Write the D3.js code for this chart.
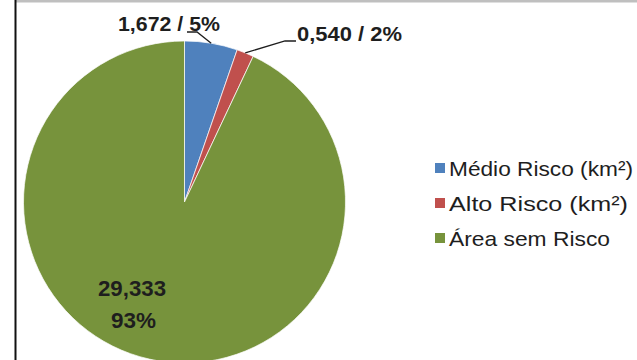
<!DOCTYPE html>
<html>
<head>
<meta charset="utf-8">
<script src="https://cdn.jsdelivr.net/npm/d3@7"></script>
<style>
  html, body { margin: 0; padding: 0; background: #fff; }
  svg { display: block; }
  text { font-family: "Liberation Sans", Arial, sans-serif; fill: #1e1e1e; }
</style>
</head>
<body>
<svg id="chart" width="637" height="360"></svg>
<script>
const categories = ["Médio Risco (km²)", "Alto Risco (km²)", "Área sem Risco"];
const values = [1.672, 0.540, 29.333];
const valueLabels = ["1,672", "0,540", "29,333"];
const percentLabels = ["5%", "2%", "93%"];
const colors = ["#4F81BD", "#C0504D", "#77933C"];

const svg = d3.select("#chart");
const W = 637, H = 360;

// frame: left dark rule and top grey band
svg.append("rect").attr("x", 0).attr("y", 0).attr("width", W).attr("height", H).attr("fill", "#fff");
svg.append("rect").attr("x", 15).attr("y", 0).attr("width", W - 15).attr("height", 2.5).attr("fill", "#bfbfbf");
svg.append("line").attr("x1", 15.5).attr("x2", 15.5).attr("y1", 0).attr("y2", H)
  .attr("stroke", "#111").attr("stroke-width", 2);

const cx = 184.5, cy = 202, r = 161;
const pie = d3.pie().sort(null).value(d => d)(values);
const arc = d3.arc().innerRadius(0).outerRadius(r);

const g = svg.append("g").attr("transform", `translate(${cx},${cy})`);
g.selectAll("path").data(pie).join("path")
  .attr("d", arc)
  .attr("fill", (d, i) => colors[i])
  .attr("stroke", "#fff")
  .attr("stroke-width", 0.7);

// leader lines from slice edge mid-angle
function edgePoint(d) {
  const a = (d.startAngle + d.endAngle) / 2;
  return [cx + r * Math.sin(a), cy - r * Math.cos(a)];
}
const p0 = edgePoint(pie[0]);
const p1 = edgePoint(pie[1]);
const line = d3.line();
svg.append("path").attr("d", line([p0, [197, 32], [187, 32]]))
  .attr("fill", "none").attr("stroke", "#1e1e1e").attr("stroke-width", 1.3);
svg.append("path").attr("d", line([p1, [285, 41], [296, 41]]))
  .attr("fill", "none").attr("stroke", "#1e1e1e").attr("stroke-width", 1.3);

// labels
svg.append("text").attr("x", 118).attr("y", 31)
  .attr("font-size", 20).attr("font-weight", "bold")
  .attr("textLength", 102).attr("lengthAdjust", "spacingAndGlyphs")
  .text(valueLabels[0] + " / " + percentLabels[0]);
svg.append("text").attr("x", 297).attr("y", 41)
  .attr("font-size", 20).attr("font-weight", "bold")
  .attr("textLength", 105).attr("lengthAdjust", "spacingAndGlyphs")
  .text(valueLabels[1] + " / " + percentLabels[1]);
svg.append("text").attr("x", 98).attr("y", 296)
  .attr("font-size", 22).attr("font-weight", "bold")
  .attr("textLength", 68).attr("lengthAdjust", "spacingAndGlyphs")
  .text(valueLabels[2]);
svg.append("text").attr("x", 111).attr("y", 328)
  .attr("font-size", 22).attr("font-weight", "bold")
  .attr("textLength", 45).attr("lengthAdjust", "spacingAndGlyphs")
  .text(percentLabels[2]);

// legend
const legendWidths = [184, 179, 161];
const legend = svg.append("g").attr("transform", "translate(435,168)");
const rows = legend.selectAll("g").data(categories).join("g")
  .attr("transform", (d, i) => `translate(0,${i * 35})`);
rows.append("rect").attr("x", 0).attr("y", -5).attr("width", 10).attr("height", 10)
  .attr("fill", (d, i) => colors[i]);
rows.append("text").attr("x", 14).attr("y", 7.5)
  .attr("font-size", 21)
  .attr("textLength", (d, i) => legendWidths[i]).attr("lengthAdjust", "spacingAndGlyphs")
  .text(d => d);
</script>
</body>
</html>
